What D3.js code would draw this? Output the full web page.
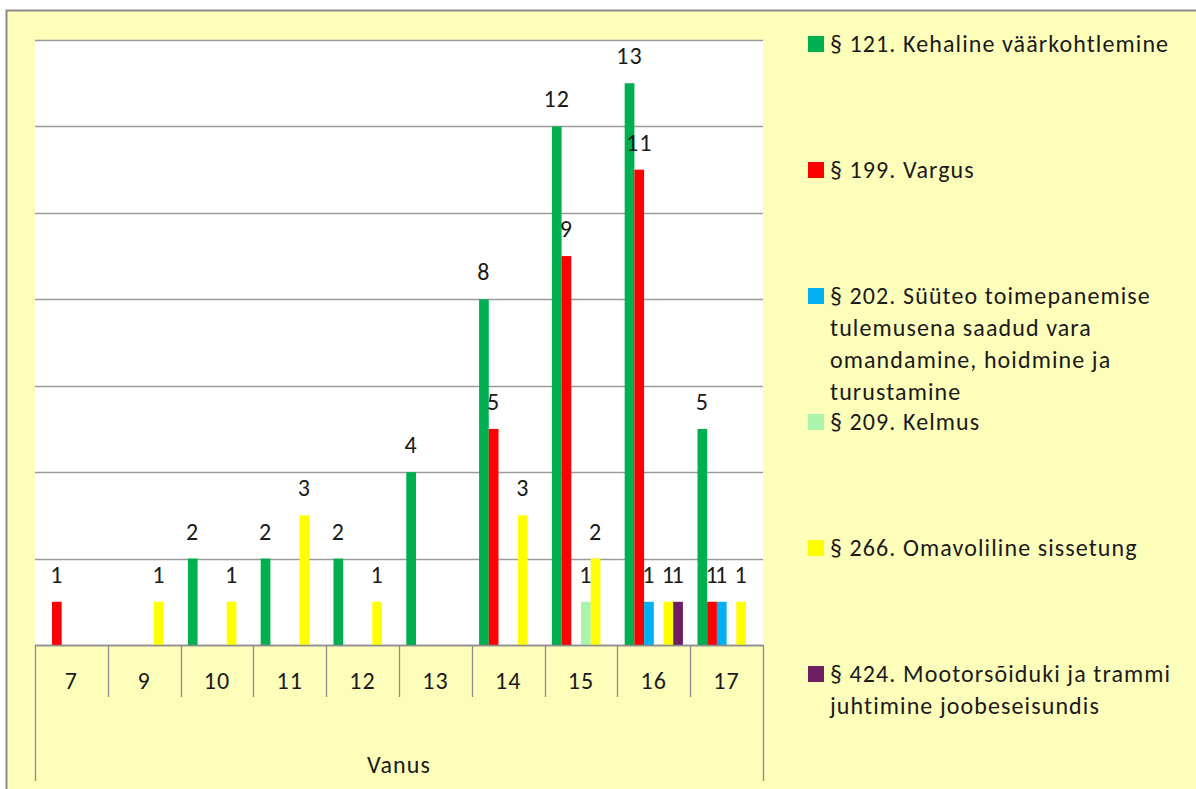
<!DOCTYPE html>
<html>
<head>
<meta charset="utf-8">
<script src="https://cdn.jsdelivr.net/npm/d3@7"></script>
<style>
  body { margin: 0; background: #fff; }
  svg text { font-family: Carlito, Lato, "Open Sans", sans-serif; fill: #1a1a1a; font-size: 24px; letter-spacing: 1.1px; }
</style>
</head>
<body>
<svg id="chart" width="1196" height="789"></svg>
<script>
// Age groups (Vanus)
var ages = ['7', '9', '10', '11', '12', '13', '14', '15', '16', '17'];

// One array per offence, null = no cases
var s121 = [null, null, 2, 2, 2, 4, 8, 12, 13, 5];
var s199 = [1, null, null, null, null, null, 5, 9, 11, 1];
var s202 = [null, null, null, null, null, null, null, null, 1, 1];
var s209 = [null, null, null, null, null, null, null, 1, null, null];
var s266 = [null, 1, 1, 3, 1, null, 3, 2, 1, 1];
var s424 = [null, null, null, null, null, null, null, null, 1, null];

var seriesNames = [
    ['§ 121. Kehaline väärkohtlemine'],
    ['§ 199. Vargus'],
    ['§ 202. Süüteo toimepanemise', 'tulemusena saadud vara', 'omandamine, hoidmine ja', 'turustamine'],
    ['§ 209. Kelmus'],
    ['§ 266. Omavoliline sissetung'],
    ['§ 424. Mootorsõiduki ja trammi', 'juhtimine joobeseisundis']
];
var seriesColors = ['#00b050', '#ff0000', '#00b0f0', '#a9f5a9', '#ffff00', '#6e1f64'];
var seriesData = [s121, s199, s202, s209, s266, s424];

var yTicks = d3.range(0, 15, 2);

var svg = d3.select('#chart');

// outer chart area (runs off the right and bottom of the picture)
svg.append('rect')
    .attr('x', 6.5).attr('y', 10.5)
    .attr('width', 1300).attr('height', 900)
    .style('fill', '#fefebb')
    .style('stroke', '#8c8c8c')
    .style('stroke-width', 2);

var plotL = 35, plotR = 763, plotT = 40, plotB = 645;

var x = d3.scaleBand().domain(ages).range([plotL, plotR]);
var xs = d3.scaleBand().domain(d3.range(seriesData.length))
    .range([0, x.bandwidth()]).paddingOuter(0.75);
var y = d3.scaleLinear().domain([0, 14]).range([plotB, plotT]);

// plot area
svg.append('rect')
    .attr('x', plotL).attr('y', plotT)
    .attr('width', plotR - plotL).attr('height', plotB - plotT)
    .style('fill', '#fff');

// gridlines
svg.append('g').selectAll('line').data(yTicks).enter()
    .append('line')
    .attr('x1', plotL).attr('x2', plotR)
    .attr('y1', function(d) { return Math.round(y(d)) + 0.5; })
    .attr('y2', function(d) { return Math.round(y(d)) + 0.5; })
    .style('stroke', '#9a9a9a')
    .style('stroke-width', 1.3);

// flatten to one record per bar
var bars = [];
seriesData.forEach(function(arr, si) {
    arr.forEach(function(v, ci) {
        if (v != null) bars.push({s: si, age: ages[ci], v: v});
    });
});

svg.append('g').selectAll('rect').data(bars).enter()
    .append('rect')
    .attr('x', function(d) { return x(d.age) + xs(d.s); })
    .attr('width', xs.bandwidth())
    .attr('y', function(d) { return y(d.v); })
    .attr('height', function(d) { return y(0) - y(d.v); })
    .style('fill', function(d) { return seriesColors[d.s]; });

// value labels drawn after every bar so they sit on top
svg.append('g').selectAll('text').data(bars).enter()
    .append('text')
    .attr('x', function(d) { return x(d.age) + xs(d.s) + xs.bandwidth() / 2; })
    .attr('y', function(d) { return y(d.v) - 19; })
    .attr('text-anchor', 'middle')
    .text(function(d) { return d.v; });

// category axis, two levels
var axis = svg.append('g').style('stroke', '#8c8c8c').style('stroke-width', 1.3);
axis.append('line')
    .attr('x1', plotL).attr('x2', plotR)
    .attr('y1', plotB + 0.5).attr('y2', plotB + 0.5);
var edges = ages.map(function(a) { return x(a); }).concat([plotR]);
axis.selectAll('.div').data(edges).enter()
    .append('line')
    .attr('x1', function(d) { return Math.round(d) + 0.5; })
    .attr('x2', function(d) { return Math.round(d) + 0.5; })
    .attr('y1', plotB)
    .attr('y2', function(d, i) { return (i == 0 || i == edges.length - 1) ? 781 : 697; });

svg.append('g').selectAll('text').data(ages).enter()
    .append('text')
    .attr('x', function(d) { return x(d) + x.bandwidth() / 2; })
    .attr('y', 689)
    .attr('text-anchor', 'middle')
    .text(function(d) { return d; });

svg.append('text')
    .attr('x', (plotL + plotR) / 2)
    .attr('y', 773)
    .attr('text-anchor', 'middle')
    .text('Vanus');

// legend
var legendY = d3.scaleLinear().domain([0, 5]).range([43, 673]);
var legend = svg.append('g').selectAll('g').data(seriesNames).enter()
    .append('g')
    .attr('transform', function(d, i) { return 'translate(808,' + legendY(i) + ')'; });

legend.append('rect')
    .attr('x', 0).attr('y', -7)
    .attr('width', 16).attr('height', 16)
    .style('fill', function(d, i) { return seriesColors[i]; });

legend.append('text')
    .attr('x', 22)
    .attr('y', 9)
    .selectAll('tspan').data(function(d) { return d; }).enter()
    .append('tspan')
    .attr('x', 22)
    .attr('dy', function(d, i) { return i == 0 ? 0 : 32; })
    .text(function(d) { return d; });
</script>
</body>
</html>
